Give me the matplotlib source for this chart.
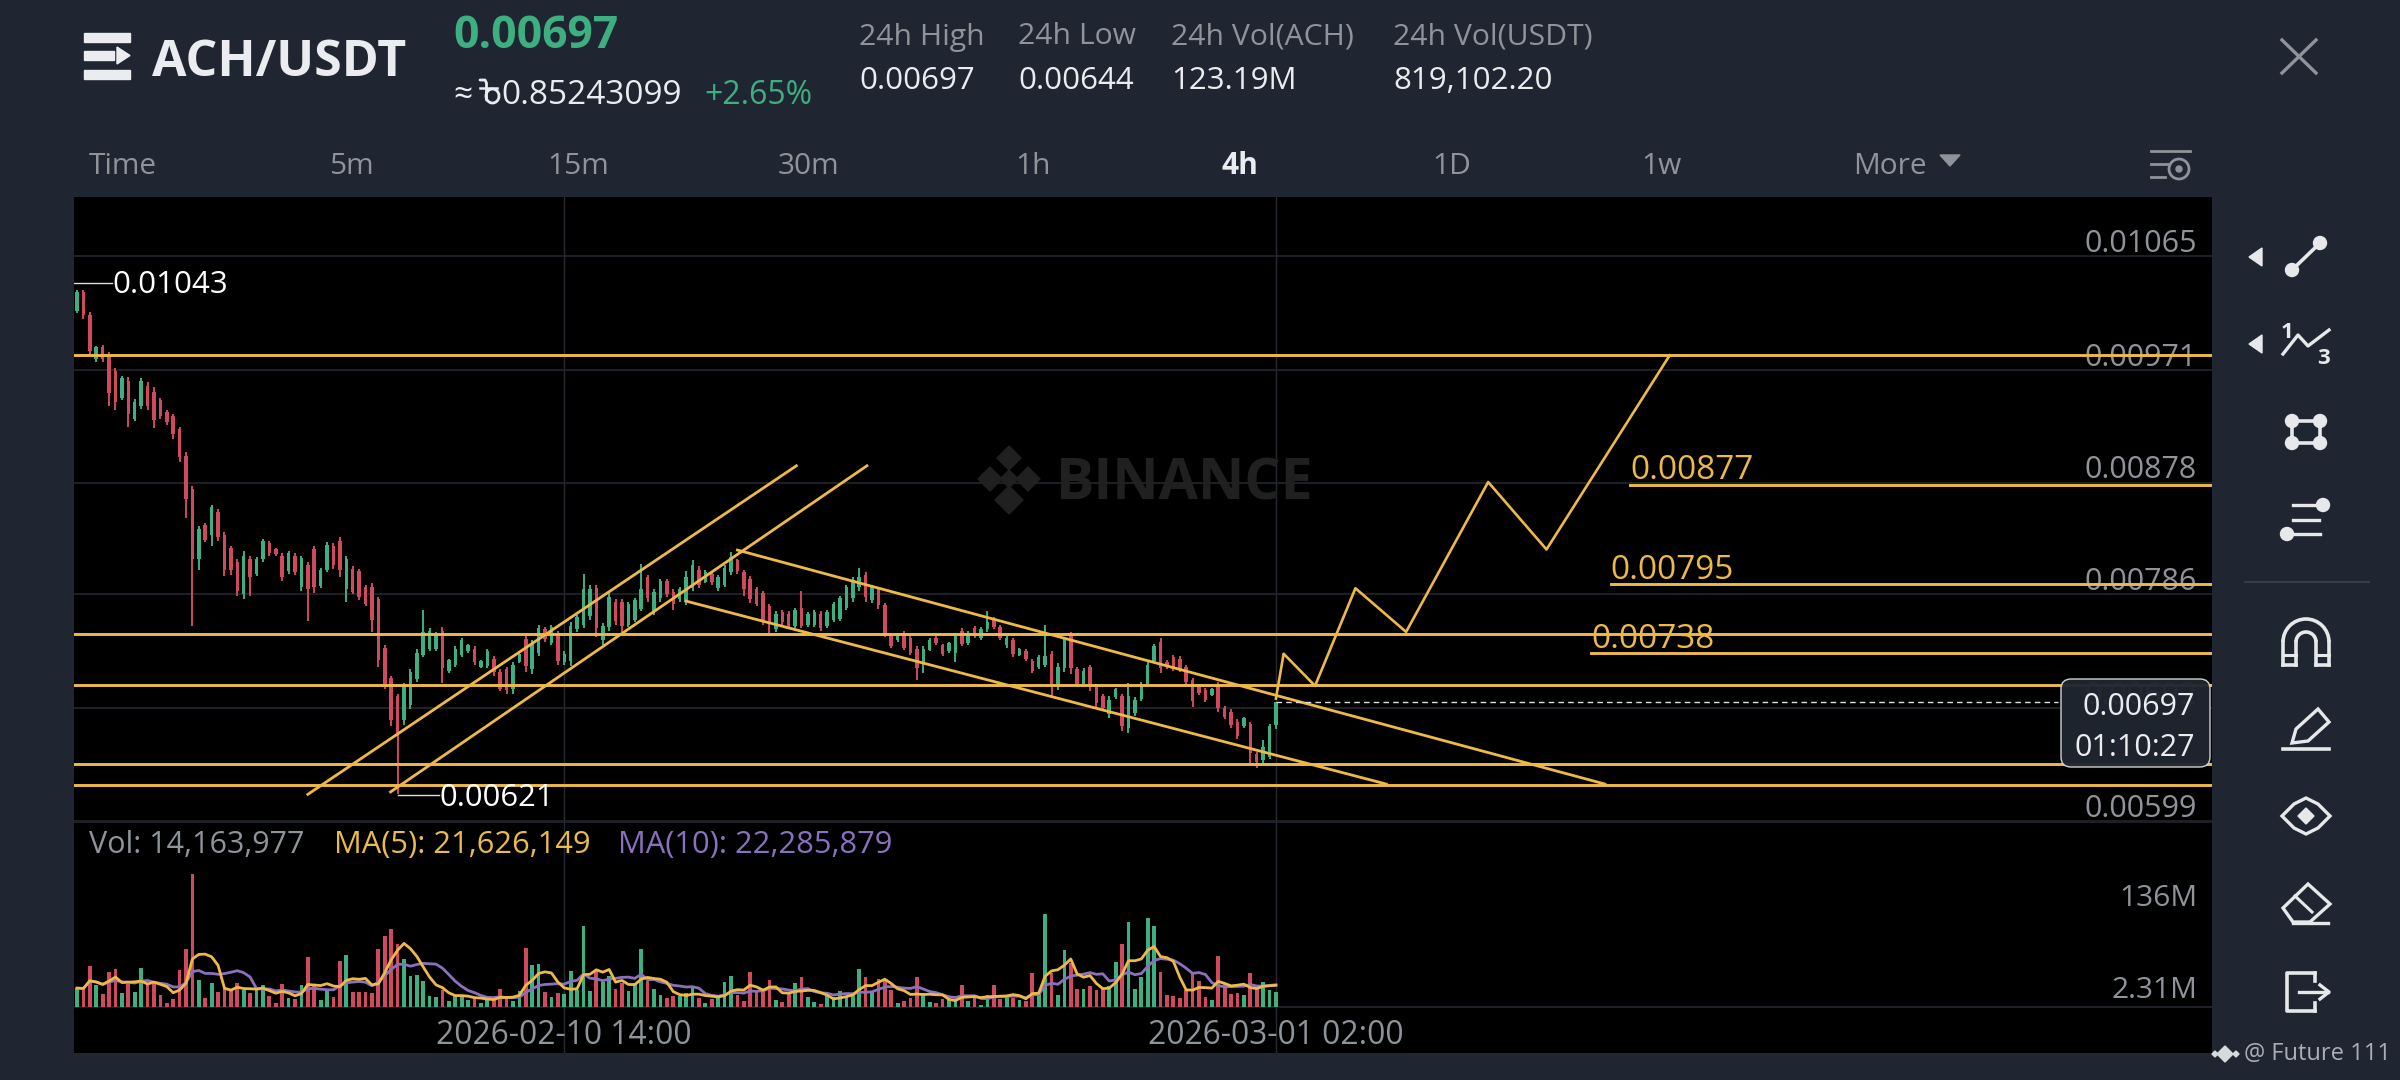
import matplotlib
matplotlib.use("Agg")
import matplotlib.pyplot as plt
from matplotlib.patches import Arc, FancyBboxPatch, Polygon, Rectangle, Circle
import numpy as np
import pandas as pd

plt.rcParams["font.family"] = ["Open Sans", "Noto Sans", "DejaVu Sans"]

# candles, prices in 1e-5 USDT, 4h bars
highs = [1037, 1037, 1019, 991, 992, 986, 973, 966, 965, 947,
         964, 961, 957, 948, 938, 935, 924, 903, 875, 842,
         845, 860, 856, 837, 826, 815, 822, 818, 817, 832,
         830, 824, 820, 822, 820, 818, 813, 826, 808, 829,
         828, 833, 818, 809, 807, 794, 795, 784, 744, 719,
         704, 713, 724, 741, 773, 758, 755, 759, 733, 743,
         750, 745, 743, 732, 741, 735, 724, 726, 730, 739,
         752, 748, 761, 759, 761, 756, 739, 763, 769, 803,
         794, 794, 762, 788, 782, 782, 780, 783, 811, 802,
         790, 799, 799, 790, 792, 805, 814, 809, 806, 805,
         802, 810, 821, 815, 806, 801, 792, 789, 778, 772,
         773, 772, 775, 789, 771, 773, 772, 773, 780, 785,
         794, 800, 808, 804, 794, 792, 779, 754, 754, 756,
         752, 743, 743, 750, 752, 745, 747, 754, 758, 756,
         760, 759, 772, 767, 761, 752, 750, 742, 741, 733,
         736, 761, 739, 729, 751, 755, 726, 725, 728, 712,
         704, 702, 709, 704, 713, 701, 714, 730, 745, 750,
         732, 736, 735, 728, 717, 712, 709, 709, 714, 694,
         691, 683, 685, 681, 656, 666, 679, 697]
lows = [1018, 1013, 984, 978, 978, 941, 938, 946, 924, 929,
        939, 938, 923, 931, 926, 914, 895, 849, 760, 806,
        829, 826, 830, 801, 802, 785, 782, 785, 801, 813,
        818, 818, 797, 803, 802, 789, 764, 787, 791, 804,
        807, 800, 780, 786, 781, 776, 755, 726, 708, 677,
        621, 678, 691, 714, 734, 739, 739, 713, 721, 726,
        734, 738, 728, 725, 725, 719, 706, 704, 704, 729,
        722, 720, 735, 747, 744, 728, 728, 727, 755, 758,
        765, 751, 744, 756, 761, 755, 759, 763, 772, 780,
        769, 780, 784, 773, 780, 777, 789, 791, 795, 794,
        789, 792, 802, 803, 785, 779, 776, 761, 754, 755,
        761, 758, 758, 758, 759, 759, 756, 758, 763, 764,
        773, 780, 789, 780, 779, 774, 751, 742, 747, 740,
        736, 715, 721, 739, 744, 735, 738, 730, 743, 744,
        750, 748, 755, 757, 748, 742, 734, 735, 731, 721,
        724, 726, 702, 707, 722, 720, 710, 710, 706, 693,
        690, 684, 700, 673, 672, 686, 698, 711, 730, 721,
        724, 723, 722, 711, 693, 703, 697, 702, 689, 683,
        676, 667, 676, 647, 643, 647, 650, 675]
body_tops = [1035, 1035, 1016, 990, 990, 982, 970, 964, 962, 945,
             962, 958, 953, 946, 936, 933, 922, 900, 873, 840,
             843, 858, 854, 835, 824, 813, 818, 815, 815, 830,
             828, 823, 818, 820, 818, 816, 810, 823, 806, 827,
             826, 830, 815, 807, 805, 792, 792, 782, 742, 717,
             702, 711, 722, 738, 755, 756, 753, 756, 732, 741,
             748, 744, 741, 731, 739, 733, 722, 724, 728, 737,
             749, 745, 758, 757, 759, 754, 737, 760, 767, 790,
             790, 791, 760, 784, 780, 780, 778, 781, 790, 800,
             788, 797, 797, 788, 790, 800, 810, 806, 804, 803,
             800, 808, 817, 814, 804, 799, 790, 787, 776, 770,
             771, 770, 773, 775, 770, 771, 770, 771, 778, 783,
             792, 798, 800, 802, 792, 790, 777, 753, 753, 754,
             750, 741, 741, 748, 750, 744, 746, 752, 756, 754,
             758, 757, 763, 765, 759, 750, 748, 741, 739, 731,
             734, 735, 737, 726, 749, 752, 724, 723, 726, 710,
             702, 699, 708, 702, 702, 699, 712, 728, 743, 747,
             730, 734, 733, 726, 715, 710, 707, 708, 712, 692,
             689, 681, 684, 679, 654, 660, 677, 697]
body_bots = [1020, 1016, 987, 980, 980, 952, 945, 948, 935, 931,
             941, 941, 930, 933, 928, 918, 899, 865, 815, 815,
             831, 835, 833, 806, 806, 789, 786, 800, 803, 815,
             820, 819, 800, 805, 804, 792, 790, 792, 793, 806,
             810, 806, 790, 788, 784, 778, 765, 732, 712, 682,
             672, 682, 695, 716, 736, 741, 741, 725, 723, 728,
             736, 739, 730, 726, 727, 722, 708, 707, 708, 730,
             727, 724, 738, 749, 746, 731, 730, 731, 757, 761,
             768, 758, 748, 759, 764, 760, 761, 765, 774, 783,
             772, 783, 786, 778, 782, 780, 791, 794, 796, 796,
             791, 794, 804, 805, 790, 782, 778, 765, 762, 757,
             763, 760, 760, 760, 761, 761, 758, 760, 765, 766,
             775, 783, 792, 784, 781, 777, 754, 743, 748, 742,
             738, 725, 728, 740, 746, 737, 739, 738, 745, 746,
             752, 750, 757, 759, 750, 744, 737, 736, 733, 723,
             726, 728, 712, 710, 725, 725, 712, 712, 710, 696,
             692, 687, 701, 677, 676, 688, 700, 712, 731, 725,
             726, 725, 724, 714, 698, 705, 699, 703, 692, 685,
             678, 669, 677, 655, 648, 649, 652, 678]
sides = ("GRRGRRRGRG" "GRRRRRRRRG" "RGRRRRGRGG" "RRRGRGRRGG" "RRGRRRRRRR"
         "RGGGGGGRGG" "GGRGGRRRGG" "RGGRGRGGGG" "GRGGRRGGGR" "GGRRGGGRGR"
         "GGGRRRRRRG" "RRGRGGRGGG" "GGGRGRRRGR" "RRGGRRGGRG" "RGGRRGRGRR"
         "GGRGGRRGRR" "RGGRGGGGGR" "RRRRRRRGRR" "RRGRRGGG")

# volume in millions
volumes = [18.5, 17.9, 41.1, 21.2, 12.8, 35.0, 38.1, 13.5, 22.9, 14.5,
           38.8, 23.6, 22.9, 11.8, 3.4, 7.8, 37.1, 57.3, 133.1, 26.3,
           9.1, 23.6, 14.5, 18.5, 16.9, 23.6, 16.9, 13.5, 16.9, 21.9,
           10.8, 4.0, 22.9, 9.1, 7.4, 21.9, 49.5, 20.2, 6.4, 16.9,
           10.1, 46.2, 51.6, 14.8, 14.2, 14.5, 13.5, 57.3, 70.8, 78.2,
           62.3, 48.2, 31.0, 32.0, 25.3, 11.1, 9.4, 16.9, 6.1, 11.8,
           10.8, 6.7, 9.4, 4.0, 6.7, 8.4, 17.9, 8.4, 6.1, 15.8,
           59.0, 42.1, 43.1, 14.2, 10.1, 13.5, 12.8, 36.1, 16.9, 80.9,
           15.2, 35.4, 24.3, 30.3, 17.5, 23.6, 15.2, 23.6, 58.0, 25.9,
           17.9, 11.8, 8.4, 11.1, 10.8, 13.5, 18.5, 8.4, 4.0, 7.8,
           10.1, 24.3, 31.0, 11.8, 5.7, 34.7, 15.2, 15.2, 27.0, 6.7,
           5.1, 13.5, 23.6, 29.3, 10.1, 4.4, 2.7, 11.1, 10.1, 15.2,
           10.8, 11.8, 37.7, 29.7, 15.2, 27.6, 27.0, 16.2, 3.4, 5.7,
           8.4, 29.3, 13.5, 5.1, 3.4, 7.4, 6.7, 7.4, 21.2, 5.7,
           9.1, 1.7, 11.8, 21.9, 7.8, 10.1, 8.4, 6.7, 6.1, 33.7,
           12.8, 92.7, 33.7, 11.8, 56.6, 43.8, 17.5, 17.5, 20.2, 16.9,
           17.9, 20.2, 44.8, 62.3, 84.9, 17.5, 29.3, 88.3, 80.9, 34.7,
           11.8, 11.1, 9.1, 16.9, 33.7, 25.3, 10.1, 6.7, 50.6, 23.6,
           12.8, 13.5, 11.8, 33.7, 18.5, 24.3, 16.2, 14.16]

# drawn levels and lines
full_levels = [983, 753, 711, 646, 629]
target_levels = [877, 795, 738]
target_starts = [242.3, 239.2, 236.2]
channels_x = [[36.0, 112.2], [48.9, 123.2], [103.0, 238.3], [95.0, 204.2]]
channels_y = [[621, 892], [623, 892], [822.5, 629.5], [780.4, 629.5]]
path_x = [187, 188.2, 193.1, 199.4, 207.3, 220.1, 229.2, 248.4]
path_y = [700, 737, 710.5, 791, 755, 878.6, 823, 983]

price_ticks = [1065, 971, 878, 786, 692, 599]
date_ticks = [76, 187]
date_labels = ["2026-02-10 14:00", "2026-03-01 02:00"]

BG = "#1f2631"
RED = "#cf4a5e"
GREEN = "#3daf80"
YELLOW = "#efb946"
PURPLE = "#8b70c0"
GRAY = "#8f939a"
GRID = "#20242b"
WHITE = "#eaecef"

idx = np.arange(len(highs))
colors = [GREEN if s == "G" else RED for s in sides]

fig = plt.figure(figsize=(24, 10.8), dpi=100, facecolor=BG)
W, H = 2400.0, 1080.0

ax = fig.add_axes([74 / W, 1 - 822 / H, (2212 - 74) / W, (822 - 197) / H], facecolor="black")
vol_ax = fig.add_axes([74 / W, 1 - 1053 / H, (2212 - 74) / W, (1053 - 822) / H], facecolor="black")

for a in (ax, vol_ax):
    a.set_xlim(-0.47, 333)
    a.set_xticks([])
    a.set_yticks([])
    for s in a.spines.values():
        s.set_visible(False)
    for d in date_ticks:
        a.axvline(d, color="#262a31", lw=1, zorder=1)

ax.set_ylim(598.2, 1113.7)
vol_ax.set_ylim(-46.5, 185)

# grid
for p in price_ticks:
    ax.axhline(p, color=GRID, lw=1.3, zorder=1)
vol_ax.axhline(0, color=GRID, lw=1.3, zorder=1)
vol_ax.axhline(184.5, color=GRID, lw=1.3, zorder=1)

# candles
ax.vlines(idx, lows, highs, colors=colors, lw=1.4, zorder=3)
ax.bar(idx, np.array(body_tops) - np.array(body_bots), bottom=body_bots, width=0.55, color=colors, zorder=3)

# horizontal levels, channels, projected path
for lv in full_levels:
    ax.axhline(lv, color=YELLOW, lw=2.1, zorder=4)
for lv, st in zip(target_levels, target_starts):
    ax.plot([st, 333], [lv - 0.7, lv - 0.7], color=YELLOW, lw=2.1, zorder=4)
for cx, cy in zip(channels_x, channels_y):
    ax.plot(cx, cy, color=YELLOW, lw=2.0, zorder=4)
ax.plot(path_x, path_y, color=YELLOW, lw=1.9, zorder=4)

# last price line
ax.plot([187, 309], [697, 697], color="#e0e0e0", lw=1, ls=(0, (4, 3)), zorder=5)

# high / low markers
ax.plot([-0.47, 5.5], [1043, 1043], color="#dddddd", lw=1, zorder=5)
ax.plot([50, 56.5], [620.5, 620.5], color="#dddddd", lw=1, zorder=5)
ax.annotate("0.01043", (5.5, 1043), xytext=(0, -2), textcoords="offset points",
            color="white", fontsize=22.5, va="center", ha="left", zorder=6)
ax.annotate("0.00621", (56.6, 620.5), xytext=(0, -2), textcoords="offset points",
            color="white", fontsize=22.3, va="center", ha="left", zorder=6)

# target labels
for lv, st in zip(target_levels, target_starts):
    ax.annotate(f"0.00{lv}", (st, lv), xytext=(0, -2.5), textcoords="offset points",
                color=YELLOW, fontsize=24, va="bottom", ha="left", zorder=6)

# price axis labels sit on top of the gridlines
for p in price_ticks:
    ax.annotate(f"{p / 1e5:.5f}", (1, p), xycoords=("axes fraction", "data"), xytext=(-11, 9),
                textcoords="offset points", color=GRAY, fontsize=22, ha="right", va="center", zorder=2)

# volume panel
vol_ax.bar(idx, volumes, width=0.58, color=colors, zorder=3)
vol_series = pd.Series(volumes)
vol_ax.plot(idx, vol_series.rolling(10, min_periods=1).mean(), color=PURPLE, lw=2, zorder=4)
vol_ax.plot(idx, vol_series.rolling(5, min_periods=1).mean(), color=YELLOW, lw=2, zorder=5)

# chrome drawn in pixel coordinates
ui = fig.add_axes([0, 0, 1, 1], facecolor="none")
ui.set_xlim(0, W)
ui.set_ylim(H, 0)
ui.axis("off")


def txt(x, y, s, color=WHITE, size=21, ha="left", weight="normal", **kw):
    ui.text(x, y + 3, s, color=color, fontsize=size, ha=ha, va="center", fontweight=weight, **kw)


# dates and volume labels
for d, lab in zip(date_ticks, date_labels):
    txt(77 + 6.41 * d, 1033, lab, color=GRAY, size=22.9, ha="center")
txt(2197, 896, "136M", color=GRAY, ha="right", size=21.5)
txt(2197, 987, "2.31M", color=GRAY, ha="right", size=21.5)

txt(89, 842, "Vol: 14,163,977", color=GRAY, size=22)
txt(334, 842, "MA(5): 21,626,149", color="#e9bb4d", size=22.2)
txt(618, 842, "MA(10): 22,285,879", color=PURPLE, size=22.2)

# BINANCE watermark
txt(1056, 482, "BINANCE", color="#202020", size=41, weight="bold")
for cx, cy, r in [(1009, 458, 12), (990, 479, 12), (1028, 479, 12), (1009, 479, 9), (1009, 500, 14)]:
    ui.add_patch(Polygon([(cx, cy - r), (cx + r, cy), (cx, cy + r), (cx - r, cy)], color="#202020"))

# last price tag
ui.add_patch(FancyBboxPatch((2061, 679), 149, 88, boxstyle="round,pad=0,rounding_size=10",
                            fc=BG, ec="#d8d8d8", lw=1, alpha=0.96))
txt(2195, 704, "0.00697", color=WHITE, size=22, ha="right")
txt(2195, 745, "01:10:27", color=WHITE, size=22, ha="right")

# header
ui.add_patch(Rectangle((84, 33), 46, 9, color=WHITE))
ui.add_patch(Rectangle((84, 51), 30, 9, color=WHITE))
ui.add_patch(Polygon([(117, 47), (130, 55.5), (117, 64)], color=WHITE))
ui.add_patch(Rectangle((84, 70), 46, 9, color=WHITE))
txt(152, 60, "ACH/USDT", size=36, weight="bold")
txt(453, 34, "0.00697", color=GREEN, size=32, weight="bold")
txt(453, 92, "≈", size=24)
txt(501, 92, "0.85243099", size=24)
txt(704, 92, "+2.65%", color=GREEN, size=23)

# taka sign, no installed font has it
ui.plot([480, 485, 486.5, 486.5], [80, 80, 83, 100], color=WHITE, lw=2, solid_capstyle="round")
ui.plot([480, 497], [88, 88], color=WHITE, lw=1.8)
ui.add_patch(Arc((492.5, 96), 13, 14, ec=WHITE, lw=2))

head_x = [859, 1018, 1171, 1393]
head_labels = ["24h High", "24h Low", "24h Vol(ACH)", "24h Vol(USDT)"]
head_values = ["0.00697", "0.00644", "123.19M", "819,102.20"]
for x, lab, val in zip(head_x, head_labels, head_values):
    txt(x, 34, lab, color=GRAY, size=21.7)
    txt(x, 78, val, size=22.5)

# close cross
ui.plot([2282, 2316], [40, 73], color=GRAY, lw=2.4)
ui.plot([2282, 2316], [73, 40], color=GRAY, lw=2.4)

# interval row
intervals = ["Time", "5m", "15m", "30m", "1h", "4h", "1D", "1w", "More"]
interval_x = [89, 329, 547, 778, 1015, 1222, 1432, 1641, 1853]
for x, lab in zip(interval_x, intervals):
    if lab == "4h":
        txt(x, 163, lab, size=21.5, weight="bold")
    else:
        txt(x, 163, lab, color=GRAY, size=21.5)
ui.add_patch(Polygon([(1940, 155), (1960, 155), (1950, 166)], color=GRAY))

# small settings icon
for y0, x0, x1 in [(151, 2151, 2190), (164, 2151, 2168), (177, 2151, 2165)]:
    ui.plot([x0, x1], [y0, y0], color=GRAY, lw=2)
ui.add_patch(Circle((2179, 169), 10, fc="none", ec=GRAY, lw=2))
ui.add_patch(Circle((2179, 169), 3, color=GRAY))

# right toolbar
IC = "#e6e8ea"
ui.add_patch(Polygon([(2262, 248), (2262, 266), (2249, 257)], color=IC))
ui.add_patch(Polygon([(2262, 335), (2262, 353), (2249, 344)], color=IC))

ui.plot([2292, 2320], [270, 243], color=IC, lw=2.6)
ui.add_patch(Circle((2292, 270), 6.5, color=IC))
ui.add_patch(Circle((2320, 243), 6.5, color=IC))

ui.plot([2283, 2298, 2308, 2329], [354, 335, 346, 330], color=IC, lw=2.4)
txt(2287, 329, "1", color=IC, size=16, ha="center", weight="bold")
txt(2323, 356, "3", color=IC, size=16, ha="center", weight="bold")

ui.add_patch(Rectangle((2292, 421), 28, 22, fc="none", ec=IC, lw=2.6))
for cx in (2292, 2320):
    for cy in (421, 443):
        ui.add_patch(Circle((cx, cy), 6.5, color=IC))

ui.plot([2293, 2323], [505, 505], color=IC, lw=2.4)
ui.plot([2293, 2319], [520, 520], color=IC, lw=2.4)
ui.plot([2287, 2320], [534, 534], color=IC, lw=2.4)
ui.add_patch(Circle((2323, 505), 6.5, color=IC))
ui.add_patch(Circle((2287, 534), 6.5, color=IC))

ui.plot([2245, 2369], [582, 582], color="#3a414c", lw=1.3)

# magnet
ui.add_patch(Arc((2306, 642), 46, 46, theta1=180, theta2=360, ec=IC, lw=2.6))
ui.add_patch(Arc((2306, 642), 20, 20, theta1=180, theta2=360, ec=IC, lw=2.6))
for xs in ([2283, 2283], [2296, 2296], [2316, 2316], [2329, 2329]):
    ui.plot(xs, [642, 665], color=IC, lw=2.6)
ui.plot([2283, 2296], [665, 665], color=IC, lw=2.6)
ui.plot([2316, 2329], [665, 665], color=IC, lw=2.6)
ui.plot([2283, 2296], [655, 655], color=IC, lw=2.2)
ui.plot([2316, 2329], [655, 655], color=IC, lw=2.2)

# pencil
ui.add_patch(Polygon([(2292, 743), (2296, 729), (2318, 709), (2329, 722), (2308, 741)], fc="none", ec=IC, lw=2.4))
ui.plot([2283, 2329], [749, 749], color=IC, lw=2.6)

# eye
ui.add_patch(Polygon([(2282, 816), (2294, 804), (2306, 798), (2318, 804), (2330, 816),
                      (2318, 828), (2306, 834), (2294, 828)], fc="none", ec=IC, lw=2.4))
ui.add_patch(Polygon([(2306, 808), (2314, 816), (2306, 824), (2298, 816)], color=IC))

# eraser
ui.add_patch(Polygon([(2283, 908), (2308, 884), (2330, 904), (2310, 922), (2293, 922)], fc="none", ec=IC, lw=2.4))
ui.plot([2295, 2312], [896, 912], color=IC, lw=2.2)
ui.plot([2293, 2328], [923, 923], color=IC, lw=2.4)

# exit
ui.plot([2315, 2287, 2287, 2315], [973, 973, 1011, 1011], color=IC, lw=2.6)
ui.plot([2315, 2315], [1003, 1011], color=IC, lw=2.6)
ui.plot([2315, 2315], [973, 981], color=IC, lw=2.6)
ui.plot([2299, 2328], [992, 992], color=IC, lw=2.4)
ui.plot([2320, 2329, 2320], [985, 992, 999], color=IC, lw=2.4)

# footer tag
for cx, cy, r in [(2225, 1054, 8), (2215, 1054, 3), (2236, 1054, 3)]:
    ui.add_patch(Polygon([(cx, cy - r), (cx + r, cy), (cx, cy + r), (cx - r, cy)], color="#d7dadd"))
txt(2244, 1051, "@ Future 111", color="#a9adb4", size=17)

fig.savefig("out.png", dpi=100, facecolor=BG)
